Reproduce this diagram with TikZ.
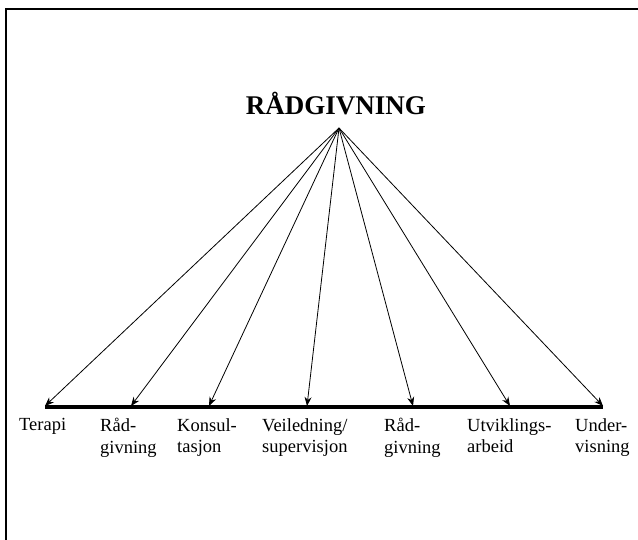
\documentclass[tikz,border=0pt]{standalone}
\usepackage{fontspec}
\setmainfont{Liberation Serif}
\usetikzlibrary{arrows.meta}
\begin{document}
\begin{tikzpicture}[x=1pt,y=-1pt,
  frameline/.style={line width=2pt, black},
  baseline/.style={line width=3.5pt, black},
  branch/.style={line width=0.8pt, -{Stealth[length=9pt,width=7pt]}},
  title/.style={font=\fontsize{27}{31}\selectfont\bfseries, inner sep=0pt, anchor=base},
  label/.style={font=\fontsize{18.5}{21.5}\selectfont, inner sep=0pt, anchor=north west, align=left}]
  \useasboundingbox (0,0) rectangle (638,540);
  % open frame: top and left edges
  \coordinate (ftl) at (6,9);
  \coordinate (ftr) at (638,9);
  \coordinate (fbl) at (6,540);
  \draw[frameline] (fbl) -- (ftl) -- (ftr);
  % heading and apex
  \node[title] (head) at (336,115) {RÅDGIVNING};
  \coordinate (apex) at (339,128);
  % base line
  \coordinate (bl) at (45,407);
  \coordinate (br) at (603,407);
  \draw[baseline] (bl) -- (br);
  % arrow targets on the base line
  \coordinate (t1) at (45,406);
  \coordinate (t2) at (131,406);
  \coordinate (t3) at (209,406);
  \coordinate (t4) at (307,406);
  \coordinate (t5) at (413,406);
  \coordinate (t6) at (510,406);
  \coordinate (t7) at (603,406);
  \foreach \t in {t1,t2,t3,t4,t5,t6,t7}
    \draw[branch] (apex) -- (\t);
  % labels, top-aligned below the base line
  \node[label] (l1) at (19,418) {Terapi};
  \node[label] (l2) at (100,418) {Råd-\\givning};
  \node[label] (l3) at (177,418) {Konsul-\\tasjon};
  \node[label] (l4) at (262,418) {Veiledning/\\supervisjon};
  \node[label] (l5) at (384,418) {Råd-\\givning};
  \node[label] (l6) at (467,418) {Utviklings-\\arbeid};
  \node[label] (l7) at (575,418) {Under-\\visning};
\end{tikzpicture}
\end{document}
